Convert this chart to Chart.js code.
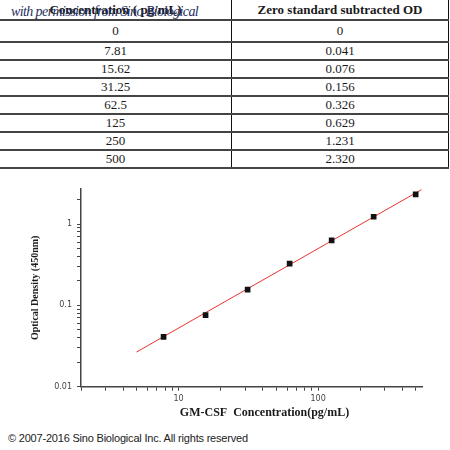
<!DOCTYPE html>
<html>
<head>
<meta charset="utf-8">
<script src="https://cdn.jsdelivr.net/npm/chart.js@4.4.1/dist/chart.umd.min.js"></script>
<style>
body{margin:0;width:450px;height:450px;background:#fff;position:relative;overflow:hidden;}
#tabla{position:absolute;left:0;top:0;width:449px;border-collapse:collapse;font-family:"Liberation Serif",serif;color:#1a1a1a;font-size:13px;}
#tabla td,#tabla th{text-align:center;padding:0;border-bottom:2px solid #444;}
#tabla th{font-size:13px;font-weight:bold;height:19px;}
#tabla td{height:16px;}
#tabla tr.primera td{height:20px;}
#tabla td:first-child,#tabla th:first-child{border-right:1px solid #111;width:231px;}
#tabla td:last-child,#tabla th:last-child{border-right:1px solid #111;}
#marca{position:absolute;left:11px;top:4px;font-family:"Liberation Serif",serif;font-style:italic;font-size:14px;letter-spacing:-0.6px;color:#1e2f62;}
#grafico{position:absolute;left:0;top:170px;width:450px;height:260px;}
#copy{position:absolute;left:8px;top:432px;font-family:"Liberation Sans",Arial,sans-serif;font-size:11px;letter-spacing:-0.2px;color:#222;}
</style>
</head>
<body>
<table id="tabla"></table>
<div id="marca">with permission from Sino Biological</div>
<div id="grafico"><canvas id="curva"></canvas></div>
<div id="copy">© 2007-2016 Sino Biological Inc. All rights reserved</div>
<script>
// tabla de estandares
const encabezados = ['Concentration ( pg/mL)', 'Zero standard subtracted OD'];
const concTabla = ['0', '7.81', '15.62', '31.25', '62.5', '125', '250', '500'];
const odTabla = ['0', '0.041', '0.076', '0.156', '0.326', '0.629', '1.231', '2.320'];

// puntos de la curva (sin el cero, escala log)
const concentracion = [7.81, 15.62, 31.25, 62.5, 125, 250, 500];
const densidad = [0.041, 0.076, 0.156, 0.326, 0.629, 1.231, 2.320];

// recta de ajuste
const ajusteX = [5, 550];
const ajusteY = [0.0267, 2.65];

// marcas de los ejes
const ticksX = [2, 3, 4, 5, 6, 7, 8, 9, 10, 20, 30, 40, 50, 60, 70, 80, 90, 100, 200, 300, 400, 500];
const etiquetasX = [10, 100];
const ticksY = [0.01, 0.02, 0.03, 0.04, 0.05, 0.06, 0.07, 0.08, 0.09, 0.1, 0.2, 0.3, 0.4, 0.5, 0.6, 0.7, 0.8, 0.9, 1, 2];
const etiquetasY = [0.01, 0.1, 1];

const tituloX = 'GM-CSF  Concentration(pg/mL)';
const tituloY = 'Optical Density (450nm)';

armarTabla();
graficoCurva();

function armarTabla(){
    const tabla = document.getElementById('tabla');
    let plantilla = `<tr><th>${encabezados[0]}</th><th>${encabezados[1]}</th></tr>`;
    for (let i = 0; i < concTabla.length; i++) {
        plantilla += `<tr class="${i == 0 ? 'primera' : ''}">
            <td>${concTabla[i]}</td>
            <td>${odTabla[i]}</td>
        </tr>`;
    }
    tabla.innerHTML = plantilla;
}

function graficoCurva(){
    const titulosEjes = {
        id: 'titulosEjes',
        afterDraw(chart){
            const ctx = chart.ctx;
            const area = chart.chartArea;
            ctx.save();
            ctx.fillStyle = '#1a1a1a';
            ctx.textAlign = 'center';
            ctx.textBaseline = 'middle';
            ctx.font = 'bold 12px "Liberation Serif"';
            ctx.fillText(tituloX, (area.left + area.right) / 2 + 13, area.bottom + 26);
            ctx.translate(area.left - 46, (area.top + area.bottom) / 2);
            ctx.rotate(-Math.PI / 2);
            ctx.font = 'bold 10px "Liberation Serif"';
            ctx.fillText(tituloY, 0, 0);
            ctx.restore();
        }
    };

    const ctx = document.getElementById('curva');
    new Chart(ctx, {
        type: 'scatter',
        data: {
            datasets: [{
                label: 'puntos',
                data: concentracion.map((c, i) => ({x: c, y: densidad[i]})),
                backgroundColor: '#111',
                borderColor: '#111',
                pointStyle: 'rect',
                pointRadius: 4,
                borderWidth: 0
            }, {
                label: 'ajuste',
                type: 'line',
                data: ajusteX.map((x, i) => ({x: x, y: ajusteY[i]})),
                borderColor: '#e8332f',
                borderWidth: 1,
                pointRadius: 0,
                fill: false
            }]
        },
        options: {
            responsive: true,
            maintainAspectRatio: false,
            animation: false,
            layout: {padding: {left: 0, right: 28, top: 19, bottom: 0}},
            plugins: {legend: {display: false}, tooltip: {enabled: false}},
            scales: {
                x: {
                    type: 'logarithmic',
                    min: 2,
                    max: 555,
                    afterBuildTicks: s => { s.ticks = ticksX.map(v => ({value: v})); },
                    afterFit: s => { s.height = 43.3; },
                    grid: {drawOnChartArea: false, tickLength: 4, color: '#444'},
                    border: {color: '#444', width: 1.5},
                    ticks: {
                        autoSkip: false,
                        maxRotation: 0,
                        padding: 3,
                        color: '#444',
                        font: {family: 'DejaVu Sans', size: 8},
                        callback: v => etiquetasX.includes(v) ? String(v) : ''
                    }
                },
                y: {
                    type: 'logarithmic',
                    min: 0.01,
                    max: 2.7,
                    afterBuildTicks: s => { s.ticks = ticksY.map(v => ({value: v})); },
                    afterFit: s => { s.width = 81; },
                    grid: {drawOnChartArea: false, tickLength: 4, color: '#444'},
                    border: {color: '#444', width: 1.5},
                    ticks: {
                        autoSkip: false,
                        padding: 5,
                        color: '#444',
                        font: {family: 'DejaVu Sans', size: 8},
                        callback: v => etiquetasY.includes(v) ? String(v) : ''
                    }
                }
            }
        },
        plugins: [titulosEjes]
    });
}
</script>
</body>
</html>
